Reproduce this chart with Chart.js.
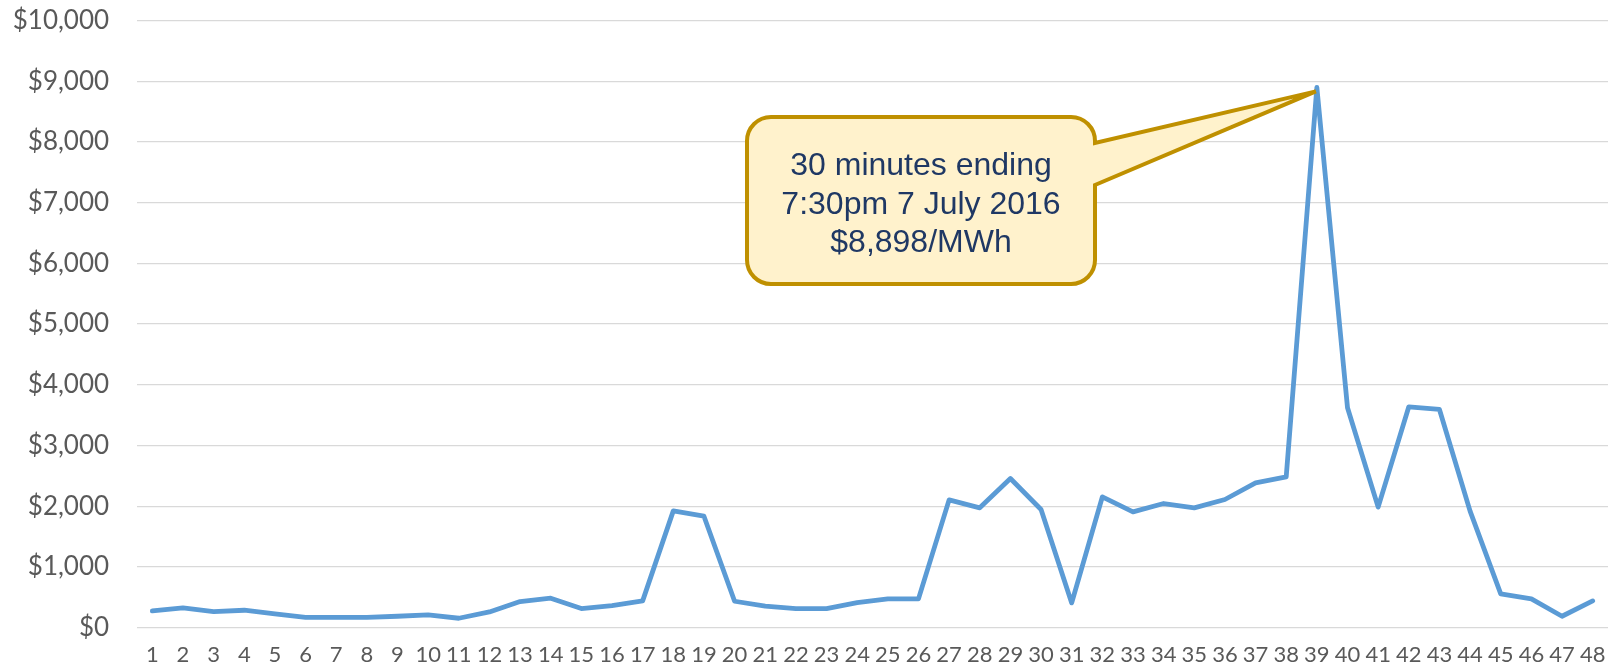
<!DOCTYPE html>
<html>
<head>
<meta charset="utf-8">
<script src="https://cdn.jsdelivr.net/npm/chart.js@4/dist/chart.umd.min.js"></script>
<style>
  html, body { margin: 0; padding: 0; background: #fff; }
  #wrap { position: relative; width: 1608px; height: 669px; }
</style>
</head>
<body>
<div id="wrap"><canvas id="price"></canvas></div>
<script>
const periods = ["1", "2", "3", "4", "5", "6", "7", "8", "9", "10", "11", "12", "13", "14", "15", "16",
  "17", "18", "19", "20", "21", "22", "23", "24", "25", "26", "27", "28", "29", "30", "31", "32",
  "33", "34", "35", "36", "37", "38", "39", "40", "41", "42", "43", "44", "45", "46", "47", "48"];
const prices = [275, 324, 264, 286, 225, 170, 170, 170, 187, 209, 154, 258, 429, 484, 313, 363,
  440, 1923, 1835, 434, 352, 313, 313, 412, 473, 473, 2104, 1973, 2456, 1945, 407, 2154,
  1907, 2044, 1973, 2110, 2385, 2484, 8898, 3620, 1984, 3637, 3593, 1918, 555, 473, 187, 440];
const yMax = 10000;
const yStep = 1000;
const calloutIndex = 38;
const calloutLines = ["30 minutes ending", "7:30pm 7 July 2016", "$8,898/MWh"];

const fmt = (v) => "$" + Number(v).toLocaleString("en-US");

// speech bubble pointing at the peak
const callout = {
  id: "callout",
  afterDatasetsDraw(chart) {
    const { ctx, scales } = chart;
    const tipX = scales.x.getPixelForValue(calloutIndex) - 1;
    const tipY = scales.y.getPixelForValue(prices[calloutIndex]) + 4;
    const l = 747, r = 1095, t = 117, b = 284, rad = 24;
    const s1 = 143, s2 = 185;
    ctx.save();
    ctx.beginPath();
    ctx.moveTo(l + rad, t);
    ctx.lineTo(r - rad, t);
    ctx.arcTo(r, t, r, t + rad, rad);
    ctx.lineTo(r, s1);
    ctx.lineTo(tipX, tipY);
    ctx.lineTo(r, s2);
    ctx.lineTo(r, b - rad);
    ctx.arcTo(r, b, r - rad, b, rad);
    ctx.lineTo(l + rad, b);
    ctx.arcTo(l, b, l, b - rad, rad);
    ctx.lineTo(l, t + rad);
    ctx.arcTo(l, t, l + rad, t, rad);
    ctx.closePath();
    ctx.fillStyle = "#FFF2CC";
    ctx.fill();
    ctx.lineWidth = 4;
    ctx.lineJoin = "miter";
    ctx.strokeStyle = "#BF9000";
    ctx.stroke();
    ctx.fillStyle = "#1F3864";
    ctx.font = "32px 'Liberation Sans', Arial, sans-serif";
    ctx.textAlign = "center";
    ctx.textBaseline = "alphabetic";
    calloutLines.forEach((line, i) => ctx.fillText(line, (l + r) / 2, 175 + i * 38.5));
    ctx.restore();
  },
};

new Chart(document.getElementById("price"), {
  type: "line",
  data: {
    labels: periods,
    datasets: [
      {
        data: prices,
        borderColor: "#5B9BD5",
        borderWidth: 4.8,
        borderJoinStyle: "round",
        borderCapStyle: "round",
        pointRadius: 0,
        tension: 0,
        fill: false,
      },
    ],
  },
  options: {
    responsive: true,
    maintainAspectRatio: false,
    animation: false,
    devicePixelRatio: 1,
    layout: { padding: 0 },
    plugins: { legend: { display: false }, tooltip: { enabled: false } },
    scales: {
      x: {
        offset: true,
        grid: { display: false, drawTicks: true, tickLength: 14 },
        border: { display: false },
        ticks: {
          autoSkip: false,
          maxRotation: 0,
          padding: 0,
          color: "#595959",
          font: { family: "Lato, 'Open Sans', sans-serif", size: 22 },
        },
        afterFit: (s) => { s.height = 41.4; },
      },
      y: {
        min: 0,
        max: yMax,
        grid: { color: "#D9D9D9", lineWidth: 1.2, drawTicks: true, tickLength: 23, tickColor: "rgba(0,0,0,0)" },
        border: { display: false },
        ticks: {
          stepSize: yStep,
          padding: 4.9,
          color: "#595959",
          font: { family: "Lato, 'Open Sans', sans-serif", size: 26 },
          callback: fmt,
        },
        afterFit: (s) => { s.width = 137; },
      },
    },
  },
  plugins: [callout],
});
</script>
</body>
</html>
